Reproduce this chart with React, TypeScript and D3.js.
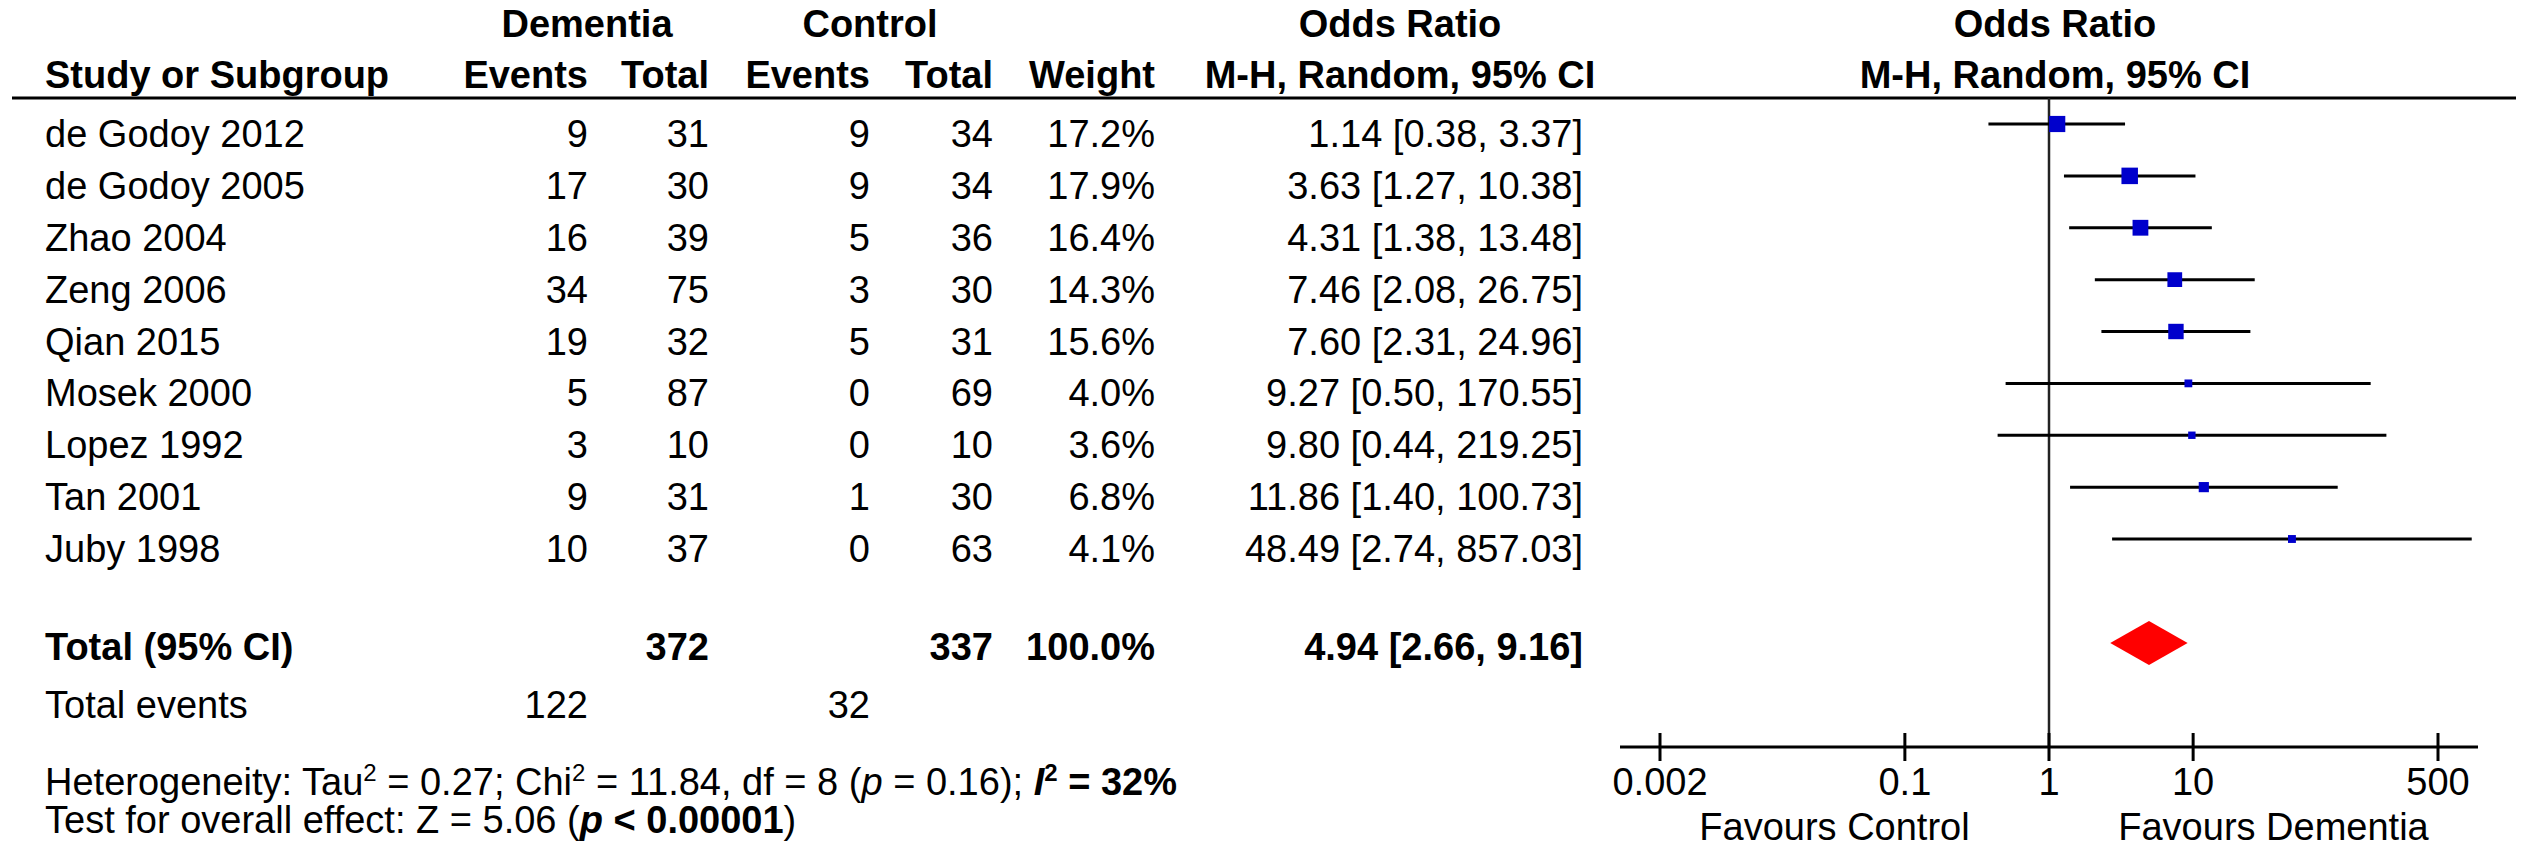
import React from 'react';
import * as d3 from 'd3';

const studies = ['de Godoy 2012', 'de Godoy 2005', 'Zhao 2004', 'Zeng 2006', 'Qian 2015', 'Mosek 2000', 'Lopez 1992', 'Tan 2001', 'Juby 1998'];
const dementiaEvents = [9, 17, 16, 34, 19, 5, 3, 9, 10];
const dementiaTotal = [31, 30, 39, 75, 32, 87, 10, 31, 37];
const controlEvents = [9, 9, 5, 3, 5, 0, 0, 1, 0];
const controlTotal = [34, 34, 36, 30, 31, 69, 10, 30, 63];
const weights = [17.2, 17.9, 16.4, 14.3, 15.6, 4.0, 3.6, 6.8, 4.1];
const oddsRatios = [1.14, 3.63, 4.31, 7.46, 7.6, 9.27, 9.8, 11.86, 48.49];
const ciLower = [0.38, 1.27, 1.38, 2.08, 2.31, 0.5, 0.44, 1.4, 2.74];
const ciUpper = [3.37, 10.38, 13.48, 26.75, 24.96, 170.55, 219.25, 100.73, 857.03];

const pooled = [4.94, 2.66, 9.16]; // estimate, lower, upper
const totals = [372, 337]; // dementia, control participants
const totalWeight = 100;
const totalEvents = [122, 32];
const axisTicks = [0.002, 0.1, 1, 10, 500];

const W = 2533;
const H = 857;
const FONT = '"Liberation Sans", Arial, sans-serif';
const FS = 38;

// column right edges (study is left edge)
const col = { study: 45, dEv: 588, dTot: 709, cEv: 870, cTot: 993, weight: 1155, ci: 1583 };

const fmt2 = d3.format('.2f');
const fmtW = (w: number) => `${w.toFixed(1)}%`;
const ciText = (o: number, l: number, u: number) => `${fmt2(o)} [${fmt2(l)}, ${fmt2(u)}]`;

export default function App() {
  const x = d3.scaleLog().domain([0.002, 500]).range([1660, 2438]);
  const y = d3.scaleLinear().domain([0, studies.length - 1]).range([124, 539]);
  const size = d3.scaleSqrt().domain([0, 17.9]).range([0, 16.5]);

  const axisY = 747;
  const axisPad = 40;
  const [xMin, xMax] = x.range();
  const xOne = x(1);
  const totalY = 643;

  const diamond = [
    [x(pooled[1]), totalY],
    [x(pooled[0]), totalY - 22],
    [x(pooled[2]), totalY],
    [x(pooled[0]), totalY + 22],
  ];

  const txt = (props: any, children: any) => (
    <text fontFamily={FONT} fontSize={FS} fill="#000" {...props}>{children}</text>
  );

  return (
    <svg width={W} height={H} style={{ position: 'absolute', left: 0, top: 0, background: '#fff' }}>
      {/* headers */}
      <g fontWeight="bold">
        {txt({ x: (465 + col.dTot) / 2, y: 37, textAnchor: 'middle' }, 'Dementia')}
        {txt({ x: (747 + col.cTot) / 2, y: 37, textAnchor: 'middle' }, 'Control')}
        {txt({ x: 1400, y: 37, textAnchor: 'middle' }, 'Odds Ratio')}
        {txt({ x: 2055, y: 37, textAnchor: 'middle' }, 'Odds Ratio')}
        {txt({ x: col.study, y: 88 }, 'Study or Subgroup')}
        {txt({ x: col.dEv, y: 88, textAnchor: 'end' }, 'Events')}
        {txt({ x: col.dTot, y: 88, textAnchor: 'end' }, 'Total')}
        {txt({ x: col.cEv, y: 88, textAnchor: 'end' }, 'Events')}
        {txt({ x: col.cTot, y: 88, textAnchor: 'end' }, 'Total')}
        {txt({ x: col.weight, y: 88, textAnchor: 'end' }, 'Weight')}
        {txt({ x: 1400, y: 88, textAnchor: 'middle' }, 'M-H, Random, 95% CI')}
        {txt({ x: 2055, y: 88, textAnchor: 'middle' }, 'M-H, Random, 95% CI')}
      </g>
      <line x1={12} x2={2516} y1={98} y2={98} stroke="#000" strokeWidth={3} />

      {/* study rows */}
      {studies.map((s, i) => {
        const ty = y(i) + 23;
        return (
          <g key={s}>
            {txt({ x: col.study, y: ty }, s)}
            {txt({ x: col.dEv, y: ty, textAnchor: 'end' }, dementiaEvents[i])}
            {txt({ x: col.dTot, y: ty, textAnchor: 'end' }, dementiaTotal[i])}
            {txt({ x: col.cEv, y: ty, textAnchor: 'end' }, controlEvents[i])}
            {txt({ x: col.cTot, y: ty, textAnchor: 'end' }, controlTotal[i])}
            {txt({ x: col.weight, y: ty, textAnchor: 'end' }, fmtW(weights[i]))}
            {txt({ x: col.ci, y: ty, textAnchor: 'end' }, ciText(oddsRatios[i], ciLower[i], ciUpper[i]))}
          </g>
        );
      })}

      {/* totals */}
      <g fontWeight="bold">
        {txt({ x: col.study, y: 660 }, 'Total (95% CI)')}
        {txt({ x: col.dTot, y: 660, textAnchor: 'end' }, totals[0])}
        {txt({ x: col.cTot, y: 660, textAnchor: 'end' }, totals[1])}
        {txt({ x: col.weight, y: 660, textAnchor: 'end' }, fmtW(totalWeight))}
        {txt({ x: col.ci, y: 660, textAnchor: 'end' }, ciText(pooled[0], pooled[1], pooled[2]))}
      </g>
      {txt({ x: col.study, y: 718 }, 'Total events')}
      {txt({ x: col.dEv, y: 718, textAnchor: 'end' }, totalEvents[0])}
      {txt({ x: col.cEv, y: 718, textAnchor: 'end' }, totalEvents[1])}

      <text x={col.study} y={795} fontFamily={FONT} fontSize={FS} fill="#000">
        <tspan>Heterogeneity: Tau</tspan>
        <tspan dy={-14} fontSize={24}>2</tspan>
        <tspan dy={14}> = 0.27; Chi</tspan>
        <tspan dy={-14} fontSize={24}>2</tspan>
        <tspan dy={14}> = 11.84, df = 8 (</tspan>
        <tspan fontStyle="italic">p</tspan>
        <tspan> = 0.16); </tspan>
        <tspan fontWeight="bold" fontStyle="italic">I</tspan>
        <tspan fontWeight="bold" dy={-14} fontSize={24}>2</tspan>
        <tspan fontWeight="bold" dy={14}> = 32%</tspan>
      </text>
      <text x={col.study} y={833} fontFamily={FONT} fontSize={FS} fill="#000">
        <tspan>Test for overall effect: Z = 5.06 (</tspan>
        <tspan fontWeight="bold" fontStyle="italic">p</tspan>
        <tspan fontWeight="bold"> &lt; 0.00001</tspan>
        <tspan>)</tspan>
      </text>

      {/* forest plot */}
      <line x1={xOne} x2={xOne} y1={98} y2={axisY} stroke="#222" strokeWidth={2.5} />
      {studies.map((s, i) => {
        const cy = y(i);
        const sz = size(weights[i]);
        return (
          <g key={`p-${s}`}>
            <line x1={x(ciLower[i])} x2={x(ciUpper[i])} y1={cy} y2={cy} stroke="#000" strokeWidth={3} />
            <rect x={x(oddsRatios[i]) - sz / 2} y={cy - sz / 2} width={sz} height={sz} fill="#0000CC" />
          </g>
        );
      })}
      <polygon points={diamond.map((p) => p.join(',')).join(' ')} fill="#FF0000" />

      {/* axis */}
      <line x1={xMin - axisPad} x2={xMax + axisPad} y1={axisY} y2={axisY} stroke="#000" strokeWidth={3} />
      {axisTicks.map((t) => (
        <g key={t}>
          <line x1={x(t)} x2={x(t)} y1={axisY - 14} y2={axisY + 14} stroke="#000" strokeWidth={3} />
          {txt({ x: x(t), y: 795, textAnchor: 'middle' }, String(t))}
        </g>
      ))}
      {txt({ x: (xMin - axisPad + xOne) / 2, y: 840, textAnchor: 'middle' }, 'Favours Control')}
      {txt({ x: (xMax + axisPad + xOne) / 2 + 10, y: 840, textAnchor: 'middle' }, 'Favours Dementia')}
    </svg>
  );
}
